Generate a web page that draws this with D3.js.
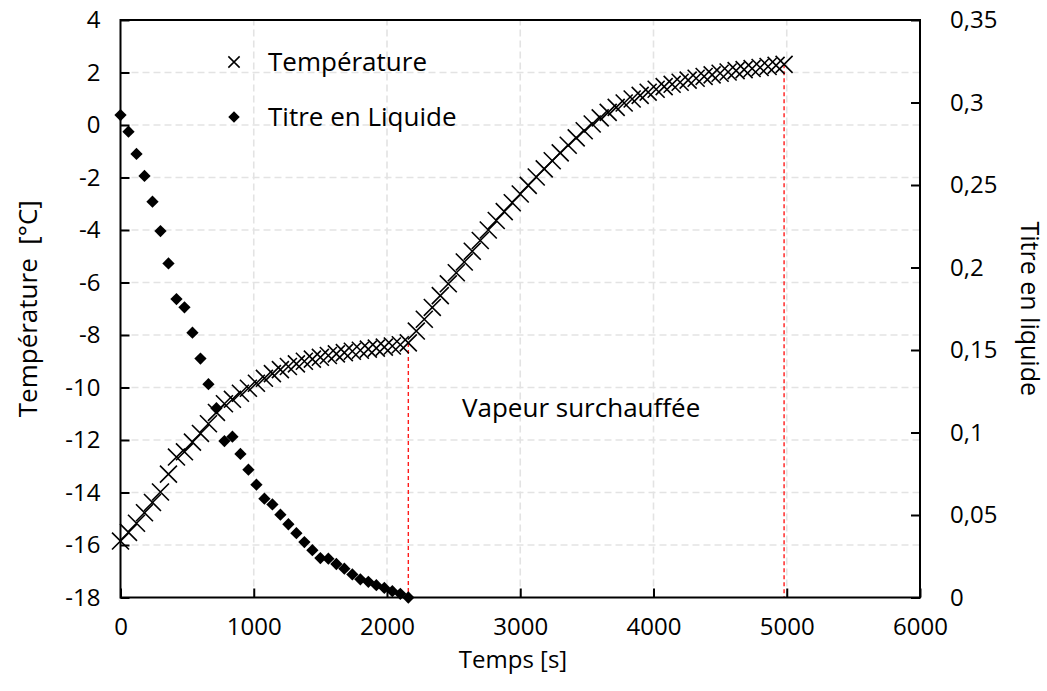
<!DOCTYPE html>
<html>
<head>
<meta charset="utf-8">
<script src="https://cdn.jsdelivr.net/npm/d3@7"></script>
<style>
  html, body { margin: 0; padding: 0; background: #fff; }
  svg { display: block; }
  text { font-family: "Open Sans", "Noto Sans", sans-serif; fill: #000; }
</style>
</head>
<body>
<div id="chart"></div>
<script>
// Sampling step of the logger, in seconds
const STEP = 60;

// Temperature [°C], one sample every 60 s from 0 to 4980 s
const temperature = [
  -15.85, -15.52, -15.17, -14.77, -14.38, -13.98, -13.30, -12.65, -12.45, -12.08,
  -11.75, -11.38, -10.95, -10.62, -10.45, -10.22, -10.03, -9.84, -9.65, -9.47,
  -9.32, -9.20, -9.10, -9.00, -8.92, -8.85, -8.78, -8.72, -8.67, -8.62,
  -8.58, -8.54, -8.50, -8.46, -8.42, -8.37, -8.30,
  -7.85, -7.40, -6.95, -6.50, -6.05, -5.63, -5.22, -4.81, -4.40, -4.00,
  -3.64, -3.30, -2.96, -2.63, -2.30, -1.98, -1.67, -1.36, -1.06, -0.77,
  -0.49, -0.22, 0.04, 0.27, 0.48, 0.67, 0.84, 0.99, 1.13, 1.25,
  1.36, 1.46, 1.55, 1.63, 1.71, 1.78, 1.85, 1.91, 1.97, 2.02,
  2.07, 2.11, 2.15, 2.19, 2.23, 2.27, 2.31
];

// Liquid fraction (titre en liquide), one sample every 60 s from 0 to 2160 s
const titre = [
  0.2924, 0.2823, 0.2688, 0.2555, 0.2399, 0.2221, 0.2025, 0.1809, 0.1759, 0.1605,
  0.1448, 0.1293, 0.1147, 0.0948, 0.0975, 0.0870, 0.0775, 0.0684, 0.0599, 0.0564,
  0.0502, 0.0444, 0.0390, 0.0336, 0.0287, 0.0239, 0.0235, 0.0203, 0.0175, 0.0140,
  0.0110, 0.0095, 0.0075, 0.0058, 0.0038, 0.0022, 0.0000
];

// Phase boundaries: end of evaporation, end of test
const phaseTimes = [2160, 4980];

// Axis ticks
const xTicks = [0, 1000, 2000, 3000, 4000, 5000, 6000];
const yTicks = [4, 2, 0, -2, -4, -6, -8, -10, -12, -14, -16, -18];
const y2Ticks = [0, 0.05, 0.1, 0.15, 0.2, 0.25, 0.3, 0.35];

const tempPts = temperature.map((v, i) => ({ t: i * STEP, v }));
const titrePts = titre.map((v, i) => ({ t: i * STEP, v }));

const W = 1047, H = 691;
const m = { left: 120.5, right: 127, top: 20, bottom: 93.5 };

const svg = d3.select("#chart").append("svg")
  .attr("width", W).attr("height", H);

const x = d3.scaleLinear().domain([0, 6000]).range([m.left, W - m.right]);
const y = d3.scaleLinear().domain([-18, 4]).range([H - m.bottom, m.top]);
const y2 = d3.scaleLinear().domain([0, 0.35]).range([H - m.bottom, m.top]);

const fmtComma = d => d3.format("")(d).replace(".", ",");

// Gridlines
const grid = svg.append("g").attr("class", "grid")
  .attr("stroke", "#e3e3e3").attr("stroke-width", 1.6)
  .attr("stroke-dasharray", "7,4");
grid.selectAll("line.h").data(yTicks.filter(d => d > -18 && d < 4)).join("line")
  .attr("x1", x(0)).attr("x2", x(6000))
  .attr("y1", d => y(d)).attr("y2", d => y(d));
grid.selectAll("line.v").data(xTicks.filter(d => d > 0 && d < 6000)).join("line")
  .attr("y1", y(-18)).attr("y2", y(4))
  .attr("x1", d => x(d)).attr("x2", d => x(d));

// Phase boundary markers
svg.append("g").selectAll("line").data(phaseTimes).join("line")
  .attr("x1", d => x(d)).attr("x2", d => x(d))
  .attr("y1", d => y(temperature[Math.round(d / STEP)]))
  .attr("y2", y(-18))
  .attr("stroke", "#ff1a1a").attr("stroke-width", 1.4)
  .attr("stroke-dasharray", "4,3");

// Axes (ticks drawn inward)
const axisFont = 24;
function styleAxis(g) {
  g.select(".domain").remove();
  g.selectAll(".tick line").attr("stroke", "#000").attr("stroke-width", 2);
  g.selectAll(".tick text").attr("font-size", axisFont)
    .attr("font-family", "'Open Sans', sans-serif");
}
svg.append("g").attr("transform", `translate(0,${y(-18)})`)
  .call(d3.axisBottom(x).tickValues(xTicks).tickFormat(d3.format("d"))
    .tickSizeInner(-9).tickSizeOuter(0).tickPadding(20))
  .call(styleAxis);
svg.append("g").attr("transform", `translate(${x(0)},0)`)
  .call(d3.axisLeft(y).tickValues(yTicks).tickFormat(d3.format("d"))
    .tickSizeInner(-9).tickSizeOuter(0).tickPadding(20))
  .call(styleAxis)
  .call(g => g.selectAll(".tick text").text(d => d < 0 ? "-" + Math.abs(d) : d));
svg.append("g").attr("transform", `translate(${x(6000)},0)`)
  .call(d3.axisRight(y2).tickValues(y2Ticks).tickFormat(fmtComma)
    .tickSizeInner(-9).tickSizeOuter(0).tickPadding(30))
  .call(styleAxis);

// Frame
svg.append("rect")
  .attr("x", x(0)).attr("y", y(4))
  .attr("width", x(6000) - x(0)).attr("height", y(-18) - y(4))
  .attr("fill", "none").attr("stroke", "#000").attr("stroke-width", 2);

// Liquid fraction markers (diamonds)
const diamond = d3.symbol().type(d3.symbolDiamond2).size(96);
svg.append("g").selectAll("path").data(titrePts).join("path")
  .attr("d", diamond)
  .attr("transform", d => `translate(${x(d.t)},${y2(d.v)})`)
  .attr("fill", "#000");

// Temperature markers (crosses)
const cross = d3.symbol().type(d3.symbolTimes).size(190);
svg.append("g").selectAll("path").data(tempPts).join("path")
  .attr("d", cross)
  .attr("transform", d => `translate(${x(d.t)},${y(d.v)})`)
  .attr("fill", "none").attr("stroke", "#000").attr("stroke-width", 1.6);

// Legend
const legend = svg.append("g");
legend.append("path").attr("d", d3.symbol().type(d3.symbolTimes).size(85))
  .attr("transform", "translate(234,62)")
  .attr("fill", "none").attr("stroke", "#000").attr("stroke-width", 1.5);
legend.append("text").attr("x", 268).attr("y", 62).attr("dy", "0.35em")
  .attr("font-size", 26).text("Température");
legend.append("path").attr("d", d3.symbol().type(d3.symbolDiamond2).size(85))
  .attr("transform", "translate(234,117)")
  .attr("fill", "#000");
legend.append("text").attr("x", 268).attr("y", 117).attr("dy", "0.35em")
  .attr("font-size", 26).text("Titre en Liquide");

// Annotation
svg.append("text").attr("x", 462).attr("y", 408).attr("dy", "0.35em")
  .attr("font-size", 26).text("Vapeur surchauffée");

// Axis titles
svg.append("text").attr("x", 513).attr("y", 660).attr("dy", "0.35em")
  .attr("text-anchor", "middle").attr("font-size", 24).text("Temps [s]");
svg.append("text")
  .attr("transform", `translate(28,${(y(4) + y(-18)) / 2}) rotate(-90)`)
  .attr("dy", "0.35em").attr("text-anchor", "middle").attr("font-size", 26)
  .attr("xml:space", "preserve")
  .text("Température  [°C]");
svg.append("text")
  .attr("transform", `translate(1029,${(y(4) + y(-18)) / 2}) rotate(90)`)
  .attr("dy", "0.32em").attr("text-anchor", "middle").attr("font-size", 25)
  .text("Titre en liquide");
</script>
</body>
</html>
